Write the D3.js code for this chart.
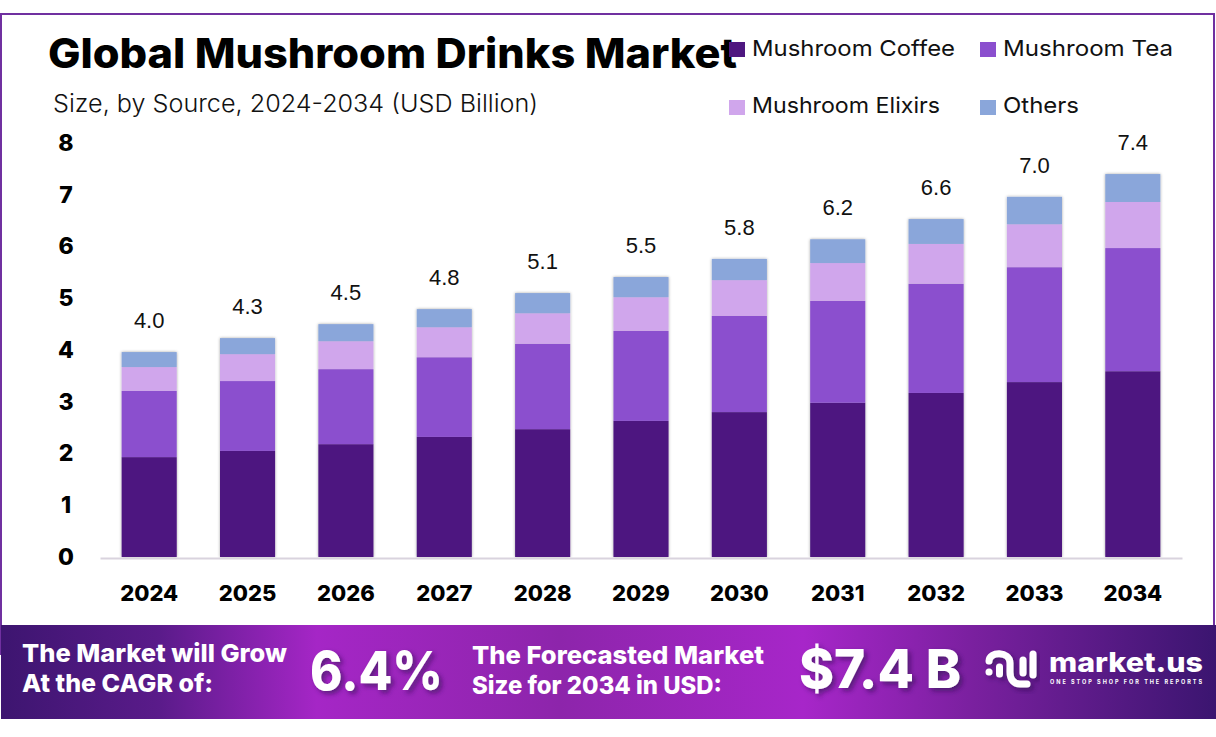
<!DOCTYPE html>
<html>
<head>
<meta charset="utf-8">
<script src="https://cdn.jsdelivr.net/npm/d3@7"></script>
<style>
  html, body { margin: 0; padding: 0; background: #fff; }
  svg { display: block; }
  text { font-family: Inter, "Noto Sans", sans-serif; }
</style>
</head>
<body>
<svg id="chart" width="1216" height="737"></svg>
<script>
const years = ["2024", "2025", "2026", "2027", "2028", "2029", "2030", "2031", "2032", "2033", "2034"]
const coffee = [1.93, 2.05, 2.18, 2.32, 2.47, 2.63, 2.80, 2.98, 3.17, 3.38, 3.59]
const tea = [1.28, 1.35, 1.45, 1.54, 1.65, 1.74, 1.86, 1.97, 2.11, 2.22, 2.38]
const elixirs = [0.46, 0.52, 0.54, 0.58, 0.59, 0.65, 0.69, 0.73, 0.77, 0.83, 0.89]
const others = [0.29, 0.31, 0.33, 0.35, 0.39, 0.39, 0.41, 0.46, 0.48, 0.53, 0.54]
const totals = ["4.0", "4.3", "4.5", "4.8", "5.1", "5.5", "5.8", "6.2", "6.6", "7.0", "7.4"]
const seriesNames = ["Mushroom Coffee", "Mushroom Tea", "Mushroom Elixirs", "Others"]
const seriesColors = ["#4e1780", "#8b4fce", "#d0a6ec", "#8aa6da"]
const yTicks = [0, 1, 2, 3, 4, 5, 6, 7, 8]

let svg = d3.select("#chart")

// fits a label to the width it has in the picture
function label(g, str, x, y, size, weight, fill, width) {
  let t = g.append("text")
    .attr("x", x).attr("y", y)
    .attr("font-size", size).attr("font-weight", weight)
    .attr("fill", fill)
    .text(str)
  if (width) t.attr("textLength", width).attr("lengthAdjust", "spacingAndGlyphs")
  return t
}

/**
 * Defs
 */

let defs = svg.append("defs")

let grad = defs.append("linearGradient").attr("id", "banner")
grad.selectAll("stop")
  .data([[0, "#3d1570"], [0.13, "#5a1b8a"], [0.26, "#a526c6"], [0.46, "#8d25ab"], [0.66, "#a726c9"], [0.8, "#7a209f"], [1, "#3b1570"]])
  .enter().append("stop")
    .attr("offset", d => d[0])
    .attr("stop-color", d => d[1])

let barShadow = defs.append("filter").attr("id", "barShadow")
  .attr("x", "-20%").attr("y", "-5%").attr("width", "140%").attr("height", "110%")
barShadow.append("feDropShadow")
  .attr("dx", 0).attr("dy", 0).attr("stdDeviation", 1.5)
  .attr("flood-color", "#000").attr("flood-opacity", 0.35)

let textShadow = defs.append("filter").attr("id", "textShadow")
  .attr("x", "-10%").attr("y", "-20%").attr("width", "125%").attr("height", "150%")
textShadow.append("feDropShadow")
  .attr("dx", 3).attr("dy", 3).attr("stdDeviation", 2.5)
  .attr("flood-color", "#2a0a50").attr("flood-opacity", 0.6)

/**
 * Frame, title
 */

svg.append("rect")
  .attr("x", 1).attr("y", 14).attr("width", 1213).attr("height", 640)
  .attr("fill", "none").attr("stroke", "#7030a0").attr("stroke-width", 2)

label(svg, "Global Mushroom Drinks Market", 48, 68, 41, 800, "#000", 689)
label(svg, "Size, by Source, 2024-2034 (USD Billion)", 53, 112, 24, 300, "#111", 485)

/**
 * Chart
 */

let x = d3.scaleBand().domain(years).range([100, 1182]).paddingInner(0.44).paddingOuter(0.22)
let y = d3.scaleLinear().domain([0, 8]).range([557, 143])

let rows = years.map((d, i) => ({ year: d, coffee: coffee[i], tea: tea[i], elixirs: elixirs[i], others: others[i] }))
let keys = ["coffee", "tea", "elixirs", "others"]
let stacked = d3.stack().keys(keys)(rows)

let bars = svg.append("g").attr("filter", "url(#barShadow)")
bars.selectAll("g")
  .data(stacked)
  .enter().append("g")
    .attr("fill", (d, i) => seriesColors[i])
  .selectAll("rect")
  .data(d => d)
  .enter().append("rect")
    .attr("x", d => x(d.data.year))
    .attr("width", x.bandwidth())
    .attr("y", d => y(d[1]))
    .attr("height", d => y(d[0]) - y(d[1]))

let topSeries = stacked[stacked.length - 1]
svg.append("g").selectAll("text")
  .data(totals)
  .enter().append("text")
    .attr("x", (d, i) => x(years[i]) + x.bandwidth() / 2)
    .attr("y", (d, i) => y(topSeries[i][1]) - 24)
    .attr("text-anchor", "middle")
    .attr("font-size", 22)
    .attr("fill", "#111")
    .style("font-family", "'Liberation Sans', sans-serif")
    .text(d => d)

let xAxis = svg.append("g")
  .attr("transform", "translate(0,558)")
  .call(d3.axisBottom(x).tickSize(0).tickPadding(27))
xAxis.select(".domain").attr("stroke", "#d9d3de").attr("stroke-width", 2)
xAxis.selectAll("text")
  .attr("font-size", 22).attr("font-weight", 800).attr("fill", "#000")
  .style("font-family", "Inter, sans-serif")

let yAxis = svg.append("g")
  .attr("transform", "translate(74,0)")
  .call(d3.axisLeft(y).tickValues(yTicks).tickSize(0).tickPadding(0).tickFormat(d3.format("d")))
yAxis.select(".domain").remove()
yAxis.selectAll("text")
  .attr("text-anchor", "middle").attr("x", -8)
  .attr("font-size", 23).attr("font-weight", 800).attr("fill", "#000")
  .style("font-family", "Inter, sans-serif")

/**
 * Legend
 */

let legendX = [729, 980]
let legendY = [42, 100]
let legendBase = [56, 113]
let legendWidth = [203, 170, 188, 76]
let legend = svg.append("g")
seriesNames.forEach((name, i) => {
  let cx = legendX[i % 2], row = i >> 1
  legend.append("rect")
    .attr("x", cx).attr("y", legendY[row]).attr("width", 16).attr("height", 15)
    .attr("fill", seriesColors[i])
  label(legend, name, cx + 23, legendBase[row], 22, 400, "#111", legendWidth[i])
})

/**
 * Banner
 */

let banner = svg.append("g")
banner.append("rect")
  .attr("x", 1).attr("y", 625).attr("width", 1215).attr("height", 94)
  .attr("fill", "url(#banner)")

label(banner, "The Market will Grow", 22, 662, 25, 800, "#fff", 265)
label(banner, "At the CAGR of:", 22, 692, 25, 800, "#fff", 191)
label(banner, "The Forecasted Market", 472, 664, 25, 800, "#fff", 292)
label(banner, "Size for 2034 in USD:", 472, 694, 25, 800, "#fff", 250)
label(banner, "6.4%", 310, 690, 53, 800, "#fff", 133).attr("filter", "url(#textShadow)")
label(banner, "$7.4 B", 799, 688, 53, 800, "#fff", 162).attr("filter", "url(#textShadow)")

// logo
let logo = banner.append("g")
  .attr("fill", "none").attr("stroke", "#fff").attr("stroke-width", 7).attr("stroke-linecap", "round")
  .attr("filter", "url(#textShadow)")
logo.append("path").attr("d", "M989 672h.01")
logo.append("path").attr("d", "M989 661C989 651 1010 651 1010 663V672C1010 680 1014 684 1020 684H1027")
logo.append("path").attr("d", "M999.5 667v7")
logo.append("path").attr("d", "M1023 660v13")
logo.append("path").attr("d", "M1033 654v21")

label(banner, "market.us", 1049, 672, 27, 800, "#fff", 154)
banner.append("text")
  .attr("x", 1050).attr("y", 683.5)
  .attr("font-size", 5.5).attr("font-weight", 700).attr("fill", "#fff")
  .attr("textLength", 152)
  .text("ONE STOP SHOP FOR THE REPORTS")
</script>
</body>
</html>
